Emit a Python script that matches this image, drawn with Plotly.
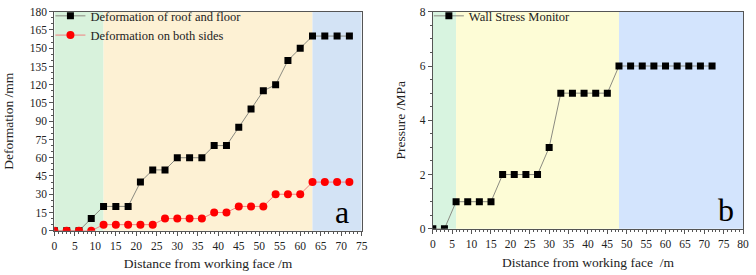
import plotly.graph_objects as go

# Panel a data
dist_a = [0, 3, 6, 9, 12, 15, 18, 21, 24, 27, 30, 33, 36, 39, 42, 45, 48, 51, 54, 57, 60, 63, 66, 69, 72]
roof_floor = [0, 0, 0, 10, 20, 20, 20, 40, 50, 50, 60, 60, 60, 70, 70, 85, 100, 115, 120, 140, 150, 160, 160, 160, 160]
both_sides = [0, 0, 0, 0, 5, 5, 5, 5, 5, 10, 10, 10, 10, 15, 15, 20, 20, 20, 30, 30, 30, 40, 40, 40, 40]

# Panel b data
dist_b = [0, 3, 6, 9, 12, 15, 18, 21, 24, 27, 30, 33, 36, 39, 42, 45, 48, 51, 54, 57, 60, 63, 66, 69, 72]
wall_stress = [0, 0, 1, 1, 1, 1, 2, 2, 2, 2, 3, 5, 5, 5, 5, 5, 6, 6, 6, 6, 6, 6, 6, 6, 6]

zones_a = [(0, 12, "#d8f2dc"), (12, 63, "#fdf1d4"), (63, 75, "#d3e3f5")]
zones_b = [(0, 6, "#d8f4e0"), (6, 48, "#fdfcd6"), (48, 80, "#d3e4fd")]

FONT = "Times New Roman, Liberation Serif, serif"
TXT = "#222222"

fig = go.Figure()
fig.add_trace(go.Scatter(x=dist_a, y=roof_floor, mode="lines+markers", name="Deformation of roof and floor",
                         line=dict(color="#8a8a80", width=1), marker=dict(symbol="square", size=7, color="black"),
                         xaxis="x", yaxis="y", legend="legend"))
fig.add_trace(go.Scatter(x=dist_a, y=both_sides, mode="lines+markers", name="Deformation on both sides",
                         line=dict(color="#f08080", width=1), marker=dict(symbol="circle", size=8, color="#ff0000"),
                         xaxis="x", yaxis="y", legend="legend"))
fig.add_trace(go.Scatter(x=dist_b, y=wall_stress, mode="lines+markers", name="Wall Stress Monitor",
                         line=dict(color="#8a8a80", width=1), marker=dict(symbol="square", size=7, color="black"),
                         xaxis="x2", yaxis="y2", legend="legend2"))

shapes = []
for x0, x1, c in zones_a:
    shapes.append(dict(type="rect", xref="x", yref="y domain", x0=x0, x1=x1, y0=0, y1=1,
                       fillcolor=c, line=dict(width=0), layer="below"))
for x0, x1, c in zones_b:
    shapes.append(dict(type="rect", xref="x2", yref="y2 domain", x0=x0, x1=x1, y0=0, y1=1,
                       fillcolor=c, line=dict(width=0), layer="below"))

W, H = 756, 275
def px(v): return v / W
def py(v): return 1 - v / H

axis_common = dict(showline=True, linecolor="#555555", linewidth=1, mirror=True, ticks="outside",
                   ticklen=4, tickcolor="#555555", showgrid=False, zeroline=False,
                   ticklabeloverflow="allow",
                   tickfont=dict(family=FONT, size=11.5, color=TXT),
                   minor=dict(ticks="outside", ticklen=2, tickcolor="#555555", showgrid=False))

TITLE_FONT = dict(family=FONT, size=13.5, color=TXT)

fig.update_layout(
    width=W, height=H, margin=dict(l=0, r=0, t=0, b=0),
    paper_bgcolor="white", plot_bgcolor="white",
    font=dict(family=FONT, color=TXT),
    shapes=shapes,
    xaxis=dict(domain=[px(52), px(363)], range=[0, 75], dtick=5, anchor="y",
               title=dict(text="Distance from working face /m", font=TITLE_FONT, standoff=8),
               **axis_common),
    yaxis=dict(domain=[py(235), py(6)], range=[0, 180], dtick=15, anchor="x",
               title=dict(text="Deformation /mm", font=TITLE_FONT, standoff=13),
               **axis_common),
    xaxis2=dict(domain=[px(435), px(749)], range=[0, 80], dtick=5, anchor="y2",
                title=dict(text="Distance from working face  /m", font=TITLE_FONT, standoff=8),
                **axis_common),
    yaxis2=dict(domain=[py(233), py(6)], range=[0, 8], dtick=2, anchor="x2",
                title=dict(text="Pressure /MPa", font=TITLE_FONT, standoff=11),
                **axis_common),
    legend=dict(x=px(48), y=1 + 5 / H, xanchor="left", yanchor="top", bgcolor="rgba(0,0,0,0)",
                font=dict(family=FONT, size=12.5, color=TXT), tracegroupgap=0, itemwidth=30),
    legend2=dict(x=px(431), y=1 + 5 / H, xanchor="left", yanchor="top", bgcolor="rgba(0,0,0,0)",
                 font=dict(family=FONT, size=12.5, color=TXT), itemwidth=30),
    showlegend=True,
    annotations=[
        dict(text="a", x=px(343), y=py(215), xref="paper", yref="paper", showarrow=False,
             font=dict(family=FONT, size=32, color="black"), xanchor="center", yanchor="middle"),
        dict(text="b", x=px(732), y=py(213), xref="paper", yref="paper", showarrow=False,
             font=dict(family=FONT, size=32, color="black"), xanchor="center", yanchor="middle"),
    ],
)

fig.write_html("out.html")
